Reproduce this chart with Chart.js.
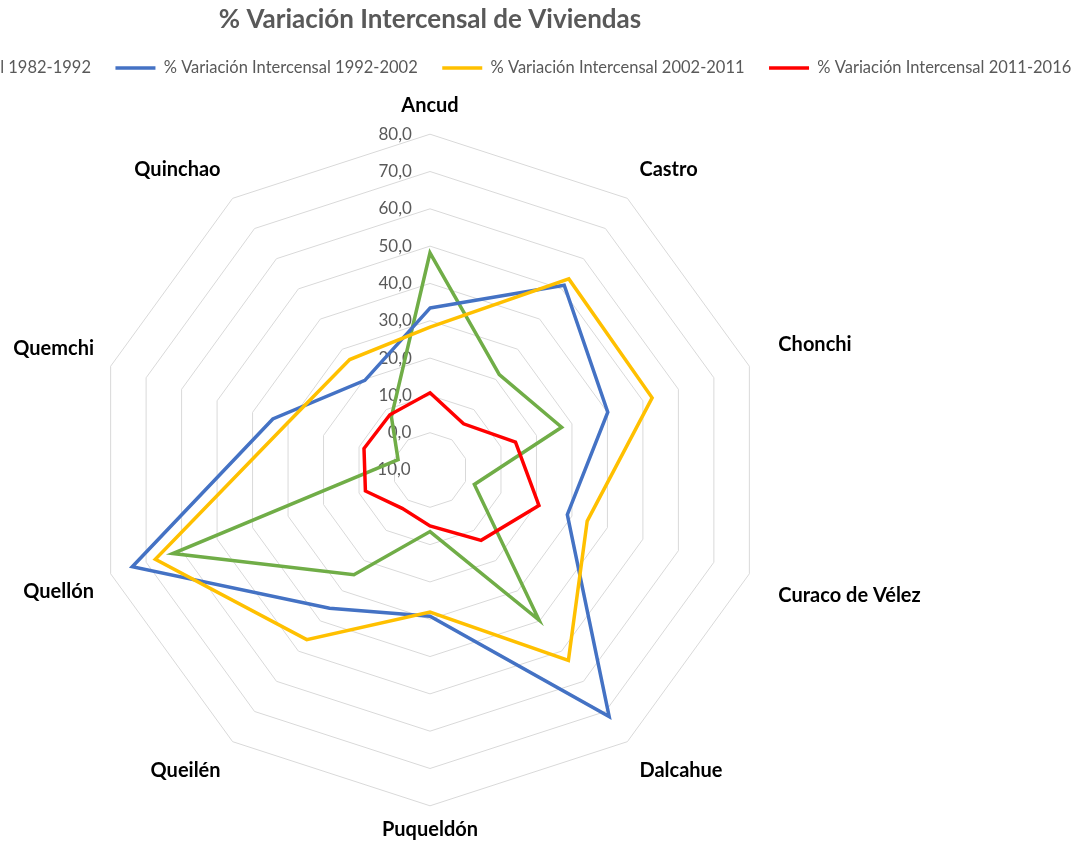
<!DOCTYPE html>
<html>
<head>
<meta charset="utf-8">
<script src="https://cdn.jsdelivr.net/npm/chart.js@4/dist/chart.umd.min.js"></script>
<style>
    body { margin: 0; background: #fff; overflow: hidden; }
    #wrap { position: absolute; left: -270px; top: 0; width: 1400px; height: 847px; }
</style>
</head>
<body>
<div id="wrap"><canvas id="chart"></canvas></div>
<script>
// Comunas
const comunas = ['Ancud', 'Castro', 'Chonchi', 'Curaco de Vélez', 'Dalcahue',
    'Puqueldón', 'Queilén', 'Quellón', 'Quemchi', 'Quinchao'];

// Series
const var1982 = [48.2, 21.6, 27.1, 2.5, 39.7, 6.5, 24.7, 62.5, -1.0, 7.6];
const var1992 = [33.4, 51.2, 40.1, 28.7, 71.7, 29.2, 35.8, 73.9, 34.3, 19.7];
const var2002 = [28.3, 53.3, 52.6, 34.3, 53.1, 28.1, 46.2, 67.4, 30.3, 26.6];
const var2011 = [10.7, 5.3, 14.1, 20.7, 13.3, 5.0, 2.7, 8.2, 8.6, 8.3];

const seriesNames = [
    '% Variación Intercensal 1982-1992',
    '% Variación Intercensal 1992-2002',
    '% Variación Intercensal 2002-2011',
    '% Variación Intercensal 2011-2016'
];
const seriesColors = ['#70AD47', '#4472C4', '#FFC000', '#FF0000'];

// Axis range
const axisMin = -10;
const axisMax = 80;
const axisStep = 10;

// Tick labels sit left of the axis, right edge aligned
const tickFont = '17px Lato';
const measureCtx = document.createElement('canvas').getContext('2d');
measureCtx.font = tickFont;
function tickLabel(value) {
    const label = value.toFixed(1).replace('.', ',');
    const w = measureCtx.measureText(label).width;
    const s = measureCtx.measureText(' ').width;
    const n = Math.round((w + 38) / s);
    return label + ' '.repeat(n);
}

// Point label distance from the outer ring
function labelPadding(ctx) {
    switch (ctx.index) {
        case 0: return 2;          // Ancud
        case 5: return 1;          // Puqueldón
        case 2: case 3: return 20; // right side
        case 7: case 8: return 7;  // left side
        default: return 10;        // diagonals
    }
}

function labelFont(ctx) {
    // taller box above Ancud keeps it clear of the legend
    return { family: 'Lato', size: 20, weight: 'bold', lineHeight: ctx.index === 0 ? 1.575 : 1.2 };
}

const allSeries = [var1982, var1992, var2002, var2011];

const datasets = allSeries.map((values, i) => ({
    label: seriesNames[i],
    data: values,
    borderColor: seriesColors[i],
    backgroundColor: seriesColors[i],
    borderWidth: 3.5,
    fill: false,
    pointRadius: 0,
    pointStyle: 'line',
    order: allSeries.length - i
}));

new Chart(document.getElementById('chart'), {
    type: 'radar',
    data: {
        labels: comunas,
        datasets: datasets
    },
    options: {
        responsive: true,
        maintainAspectRatio: false,
        animation: false,
        layout: { padding: { top: 4, bottom: 0 } },
        elements: { line: { tension: 0 } },
        plugins: {
            title: {
                display: true,
                text: '% Variación Intercensal de Viviendas',
                color: '#595959',
                font: { family: 'Lato', size: 26, weight: 'bold' },
                padding: { top: 0, bottom: 0 }
            },
            legend: {
                position: 'top',
                labels: {
                    color: '#595959',
                    font: { family: 'Lato', size: 16.5 },
                    usePointStyle: true,
                    pointStyleWidth: 40,
                    padding: 24.5,
                    sort: (a, b) => a.datasetIndex - b.datasetIndex
                }
            },
            tooltip: { enabled: false }
        },
        scales: {
            r: {
                min: axisMin,
                max: axisMax,
                angleLines: { display: false },
                grid: { color: '#D9D9D9', lineWidth: 1 },
                ticks: {
                    stepSize: axisStep,
                    showLabelBackdrop: false,
                    color: '#595959',
                    font: { family: 'Lato', size: 17 },
                    callback: (value) => tickLabel(value)
                },
                pointLabels: {
                    color: '#000000',
                    font: labelFont,
                    padding: labelPadding
                }
            }
        }
    }
});
</script>
</body>
</html>
